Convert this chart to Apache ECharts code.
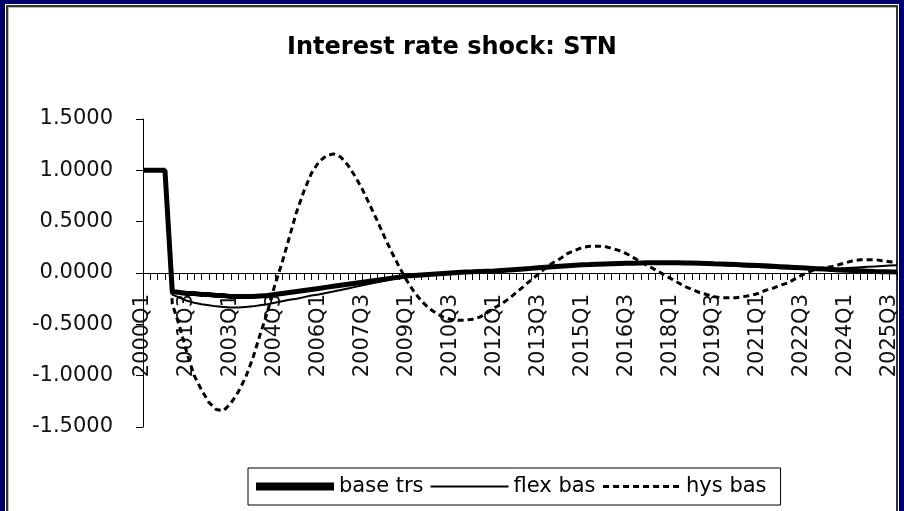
<!DOCTYPE html>
<html>
<head>
<meta charset="utf-8">
<script src="https://cdn.jsdelivr.net/npm/echarts@6/dist/echarts.min.js"></script>
<style>
  html, body { margin: 0; padding: 0; }
  body { width: 904px; height: 511px; background: #00006a; position: relative; overflow: hidden; }
  #frame { position: absolute; left: 5px; top: 4px; right: 5px; bottom: -4px; background: #fff; padding: 1px; }
  #frame div { width: 100%; height: 100%; box-sizing: border-box; border: 2px solid #333; box-shadow: inset 1px 1px 0 #bbb; }
  #chart { position: absolute; left: 0; top: 0; width: 904px; height: 511px; }
</style>
</head>
<body>
<div id="frame"><div></div></div>
<div id="chart"></div>
<script>
// quarters 2000Q1 .. 2025Q4
const quarters = []
for (let y = 2000; y <= 2025; y++) {
  for (let q = 1; q <= 4; q++) quarters.push(y + 'Q' + q)
}

const baseTrs = [
  1, 1, 1, 1, -0.18, -0.19, -0.2, -0.2, -0.21, -0.21,
  -0.22, -0.22, -0.23, -0.23, -0.23, -0.23, -0.225, -0.22, -0.21, -0.2,
  -0.19, -0.18, -0.17, -0.16, -0.15, -0.14, -0.13, -0.12, -0.11, -0.1,
  -0.09, -0.08, -0.07, -0.06, -0.05, -0.04, -0.03, -0.025, -0.02, -0.015,
  -0.01, -0.005, 0, 0.005, 0.01, 0.012, 0.015, 0.018, 0.02, 0.025,
  0.03, 0.035, 0.04, 0.045, 0.05, 0.055, 0.06, 0.065, 0.07, 0.075,
  0.08, 0.082, 0.085, 0.088, 0.09, 0.092, 0.094, 0.096, 0.098, 0.1,
  0.1, 0.1, 0.1, 0.099, 0.098, 0.097, 0.095, 0.093, 0.09, 0.088,
  0.085, 0.082, 0.079, 0.076, 0.073, 0.07, 0.066, 0.062, 0.058, 0.054,
  0.05, 0.046, 0.042, 0.038, 0.034, 0.03, 0.027, 0.024, 0.021, 0.018,
  0.015, 0.013, 0.011, 0.01
]

const flexBas = [
  1, 1, 1, 1, -0.21, -0.24, -0.27, -0.29, -0.305, -0.315,
  -0.325, -0.33, -0.335, -0.335, -0.33, -0.325, -0.315, -0.305, -0.29, -0.275,
  -0.26, -0.25, -0.235, -0.22, -0.21, -0.195, -0.18, -0.165, -0.15, -0.135,
  -0.12, -0.105, -0.09, -0.075, -0.06, -0.048, -0.036, -0.026, -0.018, -0.01,
  -0.004, 0, 0.004, 0.008, 0.012, 0.016, 0.02, 0.024, 0.028, 0.032,
  0.036, 0.04, 0.044, 0.048, 0.052, 0.056, 0.06, 0.064, 0.068, 0.072,
  0.076, 0.08, 0.083, 0.086, 0.089, 0.092, 0.095, 0.097, 0.099, 0.1,
  0.1, 0.1, 0.099, 0.097, 0.095, 0.092, 0.089, 0.086, 0.082, 0.078,
  0.074, 0.07, 0.066, 0.062, 0.058, 0.054, 0.05, 0.047, 0.044, 0.042,
  0.04, 0.039, 0.039, 0.04, 0.042, 0.045, 0.048, 0.052, 0.056, 0.06,
  0.064, 0.068, 0.072, 0.075
]

const hysBas = [
  1, 1, 1, 1, -0.3, -0.52, -0.78, -1.0, -1.14, -1.26,
  -1.33, -1.34, -1.27, -1.16, -1.02, -0.83, -0.6, -0.38, -0.12, 0.1,
  0.35, 0.6, 0.8, 0.97, 1.08, 1.14, 1.16, 1.13, 1.05, 0.94,
  0.81, 0.66, 0.51, 0.35, 0.2, 0.06, -0.07, -0.18, -0.27, -0.34,
  -0.39, -0.43, -0.45, -0.46, -0.46, -0.45, -0.43, -0.39, -0.34, -0.3,
  -0.25, -0.19, -0.13, -0.07, -0.01, 0.05, 0.1, 0.14, 0.19, 0.22,
  0.25, 0.26, 0.26, 0.26, 0.24, 0.22, 0.19, 0.15, 0.11, 0.07,
  0.03, -0.01, -0.05, -0.09, -0.13, -0.16, -0.19, -0.21, -0.23, -0.24,
  -0.24, -0.24, -0.23, -0.22, -0.2, -0.17, -0.15, -0.12, -0.1, -0.06,
  -0.02, 0.01, 0.04, 0.05, 0.06, 0.08, 0.1, 0.12, 0.13, 0.13,
  0.13, 0.12, 0.11, 0.1
]

const font = 'DejaVu Sans'

const chart = echarts.init(document.getElementById('chart'), null, { renderer: 'canvas' })
chart.setOption({
  backgroundColor: 'transparent',
  animation: false,
  title: {
    text: 'Interest rate shock: STN',
    left: 'center',
    top: 31,
    textStyle: { fontFamily: font, fontSize: 24, fontWeight: 'bold', color: '#000' }
  },
  grid: { left: 143, right: 7, top: 119, bottom: 84, containLabel: false, outerBoundsMode: 'none' },
  xAxis: {
    type: 'category',
    data: quarters,
    boundaryGap: false,
    // axis sits on the zero line: 154px above the grid bottom
    offset: -154,
    axisLine: { onZero: false, lineStyle: { color: '#000', width: 1 } },
    axisTick: { interval: 0, length: 7, lineStyle: { color: '#000' } },
    axisLabel: {
      interval: 5,
      rotate: 90,
      margin: 21,
      fontFamily: font,
      fontSize: 21,
      color: '#111'
    },
    splitLine: { show: false }
  },
  yAxis: {
    type: 'value',
    min: -1.5,
    max: 1.5,
    interval: 0.5,
    axisLine: { show: true, lineStyle: { color: '#000', width: 1 } },
    axisTick: { show: true, length: 7, lineStyle: { color: '#000' } },
    axisLabel: {
      margin: 30,
      fontFamily: font,
      fontSize: 21,
      color: '#111',
      formatter: v => v.toFixed(4)
    },
    splitLine: { show: false }
  },
  legend: {
    left: 248,
    top: 468,
    padding: [8, 14, 8, 4],
    itemGap: 6,
    itemWidth: 78,
    itemHeight: 12,
    borderColor: '#000',
    borderWidth: 1,
    itemStyle: { opacity: 0 },
    textStyle: { fontFamily: font, fontSize: 21, color: '#000' },
    data: [
      { name: 'base trs', lineStyle: { width: 8 } },
      { name: 'flex bas', lineStyle: { width: 2 } },
      { name: 'hys bas', lineStyle: { width: 3 } }
    ]
  },
  series: [
    {
      name: 'base trs',
      type: 'line',
      data: baseTrs,
      symbol: 'none',
      z: 4,
      lineStyle: { color: '#000', width: 5 },
      itemStyle: { color: '#000' }
    },
    {
      name: 'flex bas',
      type: 'line',
      data: flexBas,
      symbol: 'none',
      z: 3,
      lineStyle: { color: '#000', width: 2 },
      itemStyle: { color: '#000' }
    },
    {
      name: 'hys bas',
      type: 'line',
      data: hysBas,
      symbol: 'none',
      z: 2,
      lineStyle: { color: '#000', width: 3, type: [6, 4] },
      itemStyle: { color: '#000' }
    }
  ]
})
</script>
</body>
</html>
